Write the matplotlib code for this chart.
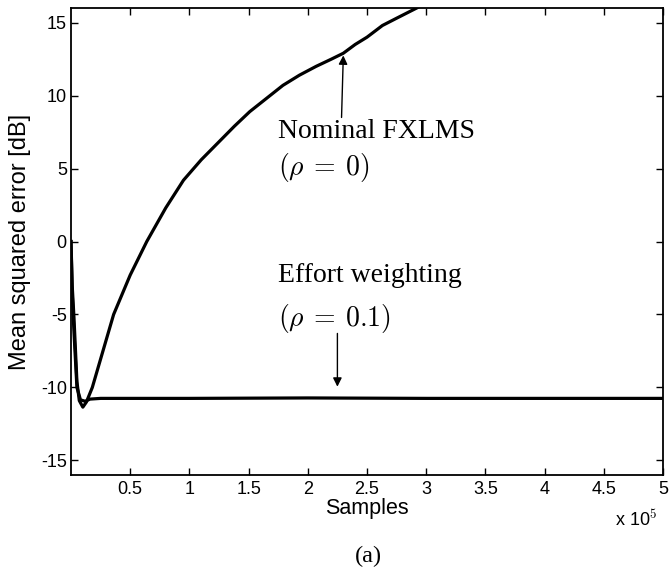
import matplotlib
matplotlib.use("Agg")
import matplotlib.pyplot as plt

# Data (x in units of 1e5 samples, y in dB)
nom_x = [0.0, 0.01, 0.025, 0.05, 0.07, 0.10, 0.13, 0.18, 0.27, 0.36, 0.5, 0.64, 0.8,
         0.95, 1.1, 1.24, 1.38, 1.51, 1.65, 1.79, 1.93, 2.07, 2.2, 2.3, 2.4, 2.5,
         2.63, 2.75, 2.92, 3.0]
nom_y = [0.0, -3.0, -5.2, -9.6, -10.9, -11.35, -11.0, -10.0, -7.5, -5.0, -2.3, 0.0, 2.3,
         4.2, 5.6, 6.75, 7.9, 8.9, 9.8, 10.7, 11.4, 12.0, 12.5, 12.9, 13.5, 14.0,
         14.8, 15.3, 16.0, 16.4]

eff_x = [0.0, 0.01, 0.025, 0.05, 0.08, 0.12, 0.16, 0.25, 1.0, 2.0, 3.0, 4.0, 5.0]
eff_y = [0.0, -3.5, -6.2, -10.0, -10.85, -10.95, -10.8, -10.75, -10.75, -10.72, -10.75,
         -10.75, -10.75]

xticks = [0.5, 1, 1.5, 2, 2.5, 3, 3.5, 4, 4.5, 5]
xticklabels = ["0.5", "1", "1.5", "2", "2.5", "3", "3.5", "4", "4.5", "5"]
yticks = [-15, -10, -5, 0, 5, 10, 15]

plt.rcParams['mathtext.fontset'] = 'cm'
plt.rcParams['axes.unicode_minus'] = False
sans = ['Liberation Sans', 'DejaVu Sans']
serif = ['Liberation Serif', 'DejaVu Serif']

fig = plt.figure(figsize=(6.69, 5.69), dpi=100)
ax = fig.add_axes([71/669, 1-475/569, 592/669, 467/569])

ax.plot(nom_x, nom_y, color='black', lw=2.3, solid_joinstyle='round')
ax.plot(eff_x, eff_y, color='black', lw=2.3, solid_joinstyle='round')

ax.set_xlim(0, 5)
ax.set_ylim(-16, 16)
ax.set_xticks(xticks)
ax.set_xticklabels(xticklabels)
ax.set_yticks(yticks)
ax.tick_params(direction='in', top=True, right=True, length=5, width=1,
               labelsize=13, pad=4)
ax.tick_params(axis='y', pad=3)
for lab in ax.get_xticklabels() + ax.get_yticklabels():
    lab.set_family(sans)
for sp in ax.spines.values():
    sp.set_linewidth(1.3)

ax.set_xlabel('Samples', fontsize=15.5, family=sans, labelpad=0)
ax.set_ylabel('Mean squared error [dB]', fontsize=17, family=sans)
ax.yaxis.set_label_coords(-0.068, 0.5)

ax.text(0.99, -0.072, r'x 10$^5$', transform=ax.transAxes, ha='right', va='top',
        fontsize=13, family=sans)

tkw = dict(fontsize=20, family=serif, ha='left', va='center')
ax.text(1.745, 7.53, 'Nominal FXLMS', **tkw)
ax.text(1.745, 5.1, r'$(\rho\:=\:0)$', **tkw)
ax.text(1.745, -2.35, 'Effort weighting', **tkw)
ax.text(1.745, -5.25, r'$(\rho\:=\:0.1)$', **tkw)

akw = dict(arrowstyle='-|>', mutation_scale=13, lw=1.0, color='black',
           shrinkA=0, shrinkB=0)
ax.annotate('', xy=(2.30, 12.75), xytext=(2.285, 8.5), arrowprops=akw)
ax.annotate('', xy=(2.25, -9.95), xytext=(2.25, -6.3), arrowprops=akw)

fig.text(368/669, 1-556/569, '(a)', fontsize=17.5, family=serif, ha='center', va='center')

fig.savefig('out.png', dpi=100)
